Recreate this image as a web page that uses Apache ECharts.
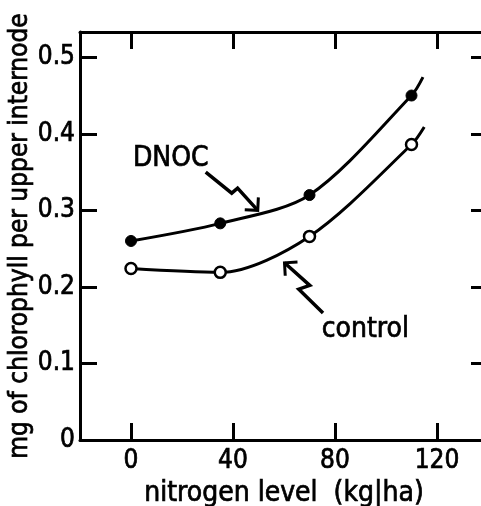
<!DOCTYPE html>
<html><head><meta charset="utf-8">
<script src="https://cdn.jsdelivr.net/npm/echarts@6/dist/echarts.min.js"></script>
<style>html,body{margin:0;padding:0;background:#fff}#c{width:481px;height:506px}</style>
</head><body><div id="c"></div>
<script>
// ---- data ----
const xTicks = [0, 40, 80, 120];
const yTicks = [0, 0.1, 0.2, 0.3, 0.4, 0.5];
// measured points (markers)
const dnocX = [0, 35, 70, 110];
const dnocY = [0.260, 0.283, 0.320, 0.450];
const controlX = [0, 35, 70, 110];
const controlY = [0.224, 0.219, 0.266, 0.386];
// where each fitted curve stops, beyond the last point
const dnocCurveEnd = [114.5, 0.474];
const controlCurveEnd = [115, 0.409];
// zig-zag annotation arrows (tail ... tip)
const dnocArrow = [[29.3, 0.350], [39.5, 0.3225], [41.8, 0.329], [49.7, 0.300]];
const controlArrow = [[75.3, 0.166], [65.8, 0.197], [70.1, 0.202], [60.2, 0.2315]];
const noteLabels = [[15.6, 0.367, 'DNOC'], [91.9, 0.1436, 'control']];
const xName = 'nitrogen level  (kg|ha)';
const yName = 'mg of chlorophyll per upper internode';

// ---- build ----
const FONT = '"Liberation Sans Narrow","DejaVu Sans Condensed",sans-serif';
const zip = (xs, ys) => xs.map((x, i) => [x, ys[i]]);
const dnocPts = zip(dnocX, dnocY);
const controlPts = zip(controlX, controlY);
const arrows = [dnocArrow, controlArrow];
const txt = (size) => ({color: '#000', fontFamily: FONT, fontSize: size, textBorderColor: '#000', textBorderWidth: 0.7});

const chart = echarts.init(document.getElementById('c'), null, {renderer: 'canvas'});
const axisCommon = {
  type: 'value',
  axisLine: {show: true, onZero: false, lineStyle: {color: '#000', width: 3}},
  axisTick: {show: true, inside: true, length: 17, lineStyle: {color: '#000', width: 3}},
  splitLine: {show: false}
};
chart.setOption({
  animation: false,
  backgroundColor: '#fff',
  grid: {left: 80, top: 32, width: 408, height: 408, containLabel: false, outerBoundsMode: 'none'},
  xAxis: [
    Object.assign({}, axisCommon, {
      position: 'bottom', min: -20, max: 140,
      axisTick: Object.assign({}, axisCommon.axisTick, {customValues: xTicks}),
      axisLabel: Object.assign({customValues: xTicks, margin: 8}, txt(26)),
      name: xName, nameLocation: 'middle', nameGap: 37,
      nameTextStyle: txt(28)
    }),
    Object.assign({}, axisCommon, {
      position: 'top', min: -20, max: 140,
      axisTick: Object.assign({}, axisCommon.axisTick, {customValues: xTicks}),
      axisLabel: {show: false}
    })
  ],
  yAxis: [
    Object.assign({}, axisCommon, {
      position: 'left', min: 0, max: 0.533,
      axisTick: Object.assign({}, axisCommon.axisTick, {customValues: yTicks}),
      axisLabel: Object.assign({customValues: yTicks, margin: 5,
        formatter: v => (v === 0 ? '0' : v.toFixed(1))}, txt(26)),
      name: yName, nameLocation: 'middle', nameGap: 47, nameMoveOverlap: false,
      nameTextStyle: txt(26)
    }),
    Object.assign({}, axisCommon, {
      position: 'right', min: 0, max: 0.533,
      axisTick: Object.assign({}, axisCommon.axisTick, {customValues: yTicks}),
      axisLabel: {show: false}
    })
  ],
  series: [
    {type: 'line', data: dnocPts.concat([dnocCurveEnd]), smooth: 0.3, symbol: 'none',
      lineStyle: {color: '#000', width: 3}},
    {type: 'line', data: controlPts.concat([controlCurveEnd]), smooth: 0.3, symbol: 'none',
      lineStyle: {color: '#000', width: 3}},
    {type: 'scatter', data: dnocPts, symbol: 'circle', symbolSize: 11,
      itemStyle: {color: '#000', borderColor: '#000', borderWidth: 1, opacity: 1}, z: 5},
    {type: 'scatter', data: controlPts, symbol: 'circle', symbolSize: 11,
      itemStyle: {color: '#fff', borderColor: '#000', borderWidth: 2.5, opacity: 1}, z: 5},
    {type: 'custom', data: arrows.map(a => a[a.length - 1]), z: 4,
      renderItem: (params, api) => {
        const pts = arrows[params.dataIndex].map(p => api.coord(p));
        const n = pts.length;
        const tip = pts[n - 1], prev = pts[n - 2];
        const dx = prev[0] - tip[0], dy = prev[1] - tip[1];
        const len = Math.hypot(dx, dy), ux = dx / len, uy = dy / len;
        const L = 13, c = Math.SQRT1_2;
        const a1 = [tip[0] + L * (ux * c - uy * c), tip[1] + L * (ux * c + uy * c)];
        const a2 = [tip[0] + L * (ux * c + uy * c), tip[1] + L * (-ux * c + uy * c)];
        return {type: 'group', children: [
          {type: 'polyline', shape: {points: pts}, style: {stroke: '#000', lineWidth: 3.5, fill: null}},
          {type: 'polyline', shape: {points: [a1, tip, a2]}, style: {stroke: '#000', lineWidth: 3, fill: null}}
        ]};
      }},
    {type: 'custom', data: noteLabels.map(l => [l[0], l[1]]), z: 6,
      renderItem: (params, api) => {
        const l = noteLabels[params.dataIndex];
        const p = api.coord([l[0], l[1]]);
        return {type: 'text', x: p[0], y: p[1],
          style: {text: l[2], fill: '#000', stroke: '#000', lineWidth: 0.7,
            font: '28px ' + FONT, align: 'center', verticalAlign: 'middle'}};
      }}
  ]
});
</script></body></html>
